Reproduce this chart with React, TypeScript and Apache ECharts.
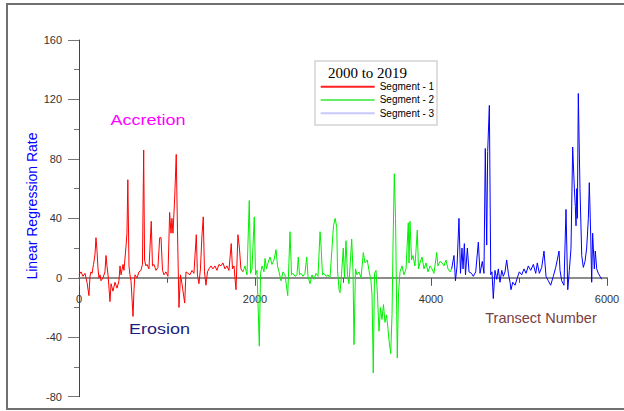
import React, { useEffect, useRef } from "react";
import * as echarts from "echarts";

// Segment 1 (red)
const seg1Transects = [0, 23, 45, 68, 91, 113, 125, 136, 148, 165, 182, 193, 205, 216, 227, 239, 250, 273, 295, 307, 318, 330, 352, 364, 386, 409, 432, 454, 466, 478, 500, 511, 534, 545, 555, 568, 579, 591, 614, 625, 636, 659, 682, 704, 721, 735, 745, 760, 772, 795, 821, 835, 852, 875, 897, 917, 932, 949, 966, 988, 1011, 1030, 1045, 1056, 1068, 1087, 1105, 1119, 1136, 1153, 1170, 1201, 1216, 1238, 1261, 1284, 1306, 1333, 1346, 1363, 1380, 1397, 1412, 1426, 1443, 1460, 1477, 1500, 1522, 1545, 1568, 1590, 1613, 1636, 1659, 1681, 1704, 1730, 1744, 1761, 1784, 1795, 1806, 1823, 1840, 1863];
const seg1Rates = [2, 4, 1, 3, -3, -12, 1, 4, 3, 9, 16, 27, 18, 6, 0, 2, -2, 0, 4, 15, 8, 2, -16, -4, -9, -3, -7, -2, 8, 2, 9, 5, 21, 30, 66, 8, 2, -2, -26, -8, 2, 0, 4, 5, 9, 86, 12, 8, 9, 6, 38, 8, 9, 5, 7, 27, 27, 5, 2, 4, 1, 44, 30, 40, 30, 53, 83, 32, -20, 2, -4, -17, 4, 3, 2, 5, 3, 29, 2, -4, 6, 28, 41, 4, -5, 4, 6, 8, 6, 8, 5, 9, 8, 10, 6, 8, 5, 23, 6, 8, -8, 10, 29, 20, 6, 4];

// Segment 2 (green)
const seg2Transects = [1864, 1886, 1909, 1935, 1949, 1966, 1992, 2006, 2023, 2049, 2063, 2080, 2102, 2114, 2131, 2148, 2170, 2193, 2216, 2239, 2256, 2273, 2295, 2318, 2341, 2372, 2398, 2415, 2432, 2455, 2477, 2492, 2506, 2523, 2545, 2568, 2588, 2602, 2625, 2648, 2670, 2693, 2716, 2739, 2750, 2767, 2784, 2807, 2830, 2852, 2875, 2892, 2911, 2929, 2938, 2955, 2966, 2983, 3003, 3017, 3034, 3051, 3068, 3099, 3114, 3125, 3142, 3159, 3182, 3205, 3231, 3250, 3276, 3295, 3318, 3330, 3344, 3358, 3375, 3392, 3409, 3426, 3443, 3460, 3477, 3494, 3511, 3523, 3542, 3557, 3568, 3583, 3597, 3617, 3631, 3648, 3670, 3693, 3716, 3742, 3750, 3761, 3779, 3795, 3818, 3844, 3858, 3875, 3898, 3920, 3943, 3966, 3989, 4011, 4034, 4065, 4079, 4102, 4125, 4148, 4170, 4193, 4216, 4235];
const seg2Rates = [4, 8, 2, 52, 3, 6, 41, 2, 5, -46, 3, 8, 4, 13, 6, 10, 14, 9, 12, 19, 8, 4, -2, 4, 2, -12, 31, 2, 3, 1, 2, 14, 2, 3, 1, 3, 14, 1, -4, 2, -1, 3, 1, 31, 22, 2, 3, 1, 2, 0, 20, 35, 40, 34, 5, -8, -10, 2, 20, 0, 25, 2, -4, 26, 4, -45, 6, 2, 4, 0, 17, 10, 12, 5, -2, -12, -64, 3, 5, -12, -36, -20, -28, -18, -30, -25, -34, -42, -51, -25, 20, 70, 40, -54, -10, 4, 8, 2, 6, 37, 10, 38, 12, 15, 8, 32, 6, 10, 14, 6, 10, 4, 8, 6, 3, 17, 8, 11, 10, 8, 12, 6, 4, 6];

// Segment 3 (blue)
const seg3Transects = [4235, 4261, 4278, 4296, 4318, 4335, 4352, 4364, 4379, 4392, 4413, 4432, 4460, 4481, 4508, 4538, 4557, 4583, 4602, 4617, 4633, 4644, 4663, 4679, 4693, 4708, 4727, 4747, 4765, 4784, 4804, 4822, 4841, 4860, 4879, 4898, 4909, 4929, 4955, 4981, 5004, 5031, 5057, 5080, 5106, 5133, 5163, 5190, 5208, 5231, 5258, 5284, 5307, 5333, 5360, 5390, 5417, 5435, 5455, 5466, 5485, 5511, 5534, 5554, 5572, 5591, 5610, 5629, 5640, 5648, 5656, 5663, 5674, 5693, 5713, 5731, 5750, 5769, 5788, 5799, 5815, 5826, 5837, 5856, 5867, 5883, 5901, 5921, 5940];
const seg3Rates = [6, 15, -2, 8, 40, 3, 20, 6, 23, 2, 20, 4, 3, 1, 4, 24, 3, 11, 3, 87, 22, 85, 116, 2, 4, -14, 5, -1, 6, -3, 5, 1, 4, 12, 3, -3, -8, -3, -5, 0, 4, 2, 6, 3, 8, 5, 9, 3, 10, 3, 7, 18, 1, -2, -5, 1, 7, 12, 18, 5, -2, -5, 46, -8, 5, 20, 88, 60, 48, 35, 60, 40, 124, 60, 15, 7, 11, 20, 40, 64, 28, -3, 30, 6, 18, 6, 3, 1, -1];

const seriesNames = ["Segment - 1", "Segment - 2", "Segment - 3"];
const seriesColors = ["#ff0000", "#00f000", "#0000ff"];
const legendColors = ["#ff2020", "#66ee66", "#c8c8ff"];
const legendTitle = "2000 to 2019";
const yAxisTitle = "Linear Regression Rate";
const xAxisTitle = "Transect Number";
const upLabel = "Accretion";
const downLabel = "Erosion";

export default function App() {
  const ref = useRef<HTMLDivElement>(null);
  useEffect(() => {
    const chart = echarts.init(ref.current!, null, { renderer: "svg" });
    const zip = (xs: number[], ys: number[]) => xs.map((x, i) => [x, ys[i]]);
    const datasets = [
      zip(seg1Transects, seg1Rates),
      zip(seg2Transects, seg2Rates),
      zip(seg3Transects, seg3Rates),
    ];
    const gridTop = 40;
    const gridBottom = 14.3;
    const yMin = -80;
    const yMax = 160;
    const plotH = 411 - gridTop - gridBottom;
    // distance from grid bottom up to the value 0 on the y scale
    const zeroOffset = -((0 - yMin) / (yMax - yMin)) * plotH;
    chart.setOption({
      animation: false,
      backgroundColor: "#ffffff",
      grid: {
        left: 79,
        right: 17,
        top: gridTop,
        bottom: gridBottom,
        containLabel: false,
        outerBoundsMode: "none",
      },
      xAxis: {
        type: "value",
        min: 0,
        max: 6000,
        interval: 2000,
        position: "bottom",
        offset: zeroOffset,
        axisLine: { onZero: false, lineStyle: { color: "#8c8c8c", width: 2 } },
        axisTick: { show: true, length: 8, lineStyle: { color: "#555" } },
        minorTick: { show: true, splitNumber: 2, length: 5, lineStyle: { color: "#555" } },
        splitLine: { show: false },
        axisLabel: {
          color: "#333",
          fontSize: 11,
          fontFamily: "Arial",
          margin: 16,
          formatter: (v: number) => String(v),
        },
      },
      yAxis: {
        type: "value",
        min: yMin,
        max: yMax,
        interval: 40,
        axisLine: { show: true, onZero: false, lineStyle: { color: "#444", width: 1 } },
        axisTick: { show: true, length: 11, lineStyle: { color: "#777" } },
        minorTick: { show: true, splitNumber: 2, length: 5, lineStyle: { color: "#777" } },
        splitLine: { show: false },
        axisLabel: {
          color: "#333",
          fontSize: 11,
          fontFamily: "Arial",
          margin: 17,
          formatter: (v: number) => String(v),
        },
      },
      legend: {
        orient: "vertical",
        left: 320.7,
        top: 80,
        padding: 0,
        itemGap: 0,
        itemWidth: 54,
        itemHeight: 2,
        icon: "rect",
        z: 10,
        textStyle: { fontFamily: "Arial", fontSize: 10, color: "#000", lineHeight: 13.3 },
        data: seriesNames.map((n, i) => ({
          name: n,
          itemStyle: { color: legendColors[i] },
          lineStyle: { color: legendColors[i] },
        })),
      },
      graphic: [
        {
          type: "rect",
          z: -10,
          silent: true,
          shape: { x: 7, y: 4, width: 630, height: 405 },
          style: { fill: "none", stroke: "#707070", lineWidth: 2 },
        },
        {
          type: "rect",
          z: 5,
          silent: true,
          shape: { x: 315, y: 61, width: 122, height: 64 },
          style: { fill: "#ffffff", stroke: "#d4d4d4", lineWidth: 1.5 },
        },
        {
          type: "text",
          z: 6,
          x: 367.5,
          y: 72.5,
          style: {
            text: legendTitle,
            fontFamily: "Liberation Serif, Times New Roman, serif",
            fontSize: 15,
            fill: "#000",
            textAlign: "center",
            textVerticalAlign: "middle",
          },
        },
        {
          type: "text",
          x: 32,
          y: 206,
          rotation: Math.PI / 2,
          style: {
            text: yAxisTitle,
            fontFamily: "Arial",
            fontSize: 14,
            fill: "#0000ff",
            textAlign: "center",
            textVerticalAlign: "middle",
          },
        },
        {
          type: "text",
          x: 148,
          y: 120,
          scaleX: 1.2,
          style: {
            text: upLabel,
            fontFamily: "Arial",
            fontSize: 15,
            fill: "#ff00ff",
            textAlign: "center",
            textVerticalAlign: "middle",
          },
        },
        {
          type: "text",
          x: 159.5,
          y: 329.5,
          scaleX: 1.2,
          style: {
            text: downLabel,
            fontFamily: "Arial",
            fontSize: 15,
            fill: "#1c1c80",
            textAlign: "center",
            textVerticalAlign: "middle",
          },
        },
        {
          type: "text",
          x: 541,
          y: 318,
          style: {
            text: xAxisTitle,
            fontFamily: "Arial",
            fontSize: 14.5,
            fill: "#7a4040",
            textAlign: "center",
            textVerticalAlign: "middle",
          },
        },
      ],
      series: seriesNames.map((n, i) => ({
        name: n,
        type: "line",
        data: datasets[i],
        symbol: "none",
        showSymbol: false,
        lineStyle: { color: seriesColors[i], width: 1 },
        itemStyle: { color: seriesColors[i] },
        z: 3,
      })),
    });
    return () => chart.dispose();
  }, []);
  return (
    <div
      ref={ref}
      style={{ position: "absolute", left: 0, top: 0, width: 624, height: 411 }}
    />
  );
}
